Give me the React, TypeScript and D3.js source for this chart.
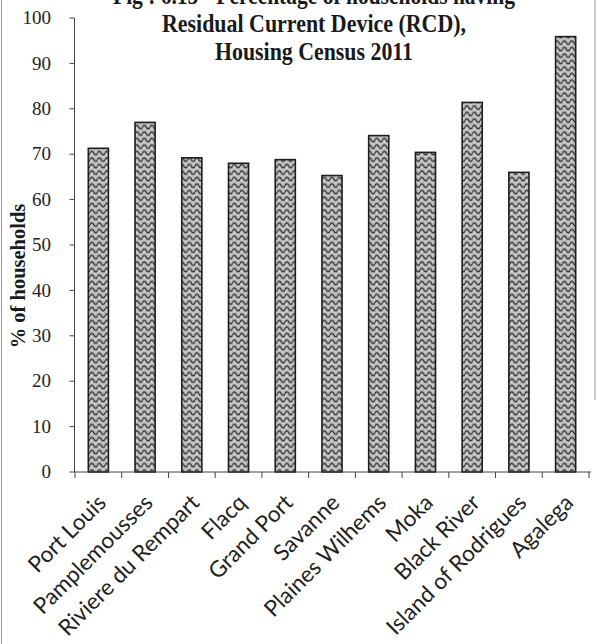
import React from "react";
import * as d3 from "d3";

// Households with a Residual Current Device, by district
const categories = [
  "Port Louis",
  "Pamplemousses",
  "Riviere du Rempart",
  "Flacq",
  "Grand Port",
  "Savanne",
  "Plaines Wilhems",
  "Moka",
  "Black River",
  "Island of Rodrigues",
  "Agalega",
];
const values = [71.3, 77.0, 69.2, 68.0, 68.8, 65.3, 74.1, 70.4, 81.4, 66.0, 95.9];
const yTicks = [0, 10, 20, 30, 40, 50, 60, 70, 80, 90, 100];
const titleLines = [
  "Fig : 6.15 - Percentage of households having",
  "Residual Current Device (RCD),",
  "Housing Census 2011",
];
const yAxisLabel = "% of households";

const W = 597;
const H = 644;
const axisX = 74.5;
const baseY = 472;
const topY = 18;
const rightX = 589;

const serif = "'Liberation Serif', 'Times New Roman', serif";
const sans = "Lato, 'Open Sans', 'Liberation Sans', sans-serif";

// condensed bold title: each line is squeezed to its own width
const titleWidths = [402, 304, 198];

export default function App() {
  const x = d3.scaleBand<string>().domain(categories).range([75, rightX]).padding(0);
  const y = d3.scaleLinear().domain([0, 100]).range([baseY, topY]);
  const step = x.step();
  const bw = step * 0.43;

  return (
    <svg
      width={W}
      height={H}
      viewBox={`0 0 ${W} ${H}`}
      style={{ position: "absolute", left: 0, top: 0, background: "#fff" }}
    >
      <defs>
        <pattern id="wave" width={7.5} height={6.5} patternUnits="userSpaceOnUse">
          <rect width={7.5} height={6.5} fill="#bcbcbc" />
          <circle cx={1.8} cy={5.4} r={0.9} fill="#dadada" />
          <circle cx={5.6} cy={0.9} r={0.8} fill="#d6d6d6" />
          <path
            d="M0,3.6 C1.3,1.1 2.45,1.1 3.75,3.6 S6.2,6.1 7.5,3.6"
            fill="none"
            stroke="#2a2a2a"
            strokeWidth={1.25}
          />
        </pattern>
      </defs>

      {/* page edge lines */}
      <line x1={1.5} x2={1.5} y1={0} y2={H} stroke="#9a9a9a" strokeWidth={1} />
      <line x1={595} x2={595} y1={0} y2={400} stroke="#9a9a9a" strokeWidth={1} />

      {/* title */}
      {titleLines.map((t, i) => (
        <text
          key={t}
          x={314}
          y={4 + i * 28}
          textAnchor="middle"
          fontFamily={serif}
          fontWeight="bold"
          fontSize={25}
          textLength={titleWidths[i]}
          lengthAdjust="spacingAndGlyphs"
          fill="#1a1a1a"
        >
          {t}
        </text>
      ))}

      {/* bars */}
      {categories.map((c, i) => (
        <rect
          key={c}
          x={(x(c) as number) + (step - bw) / 2}
          y={y(values[i])}
          width={bw}
          height={baseY - y(values[i])}
          fill="url(#wave)"
          stroke="#1e1e1e"
          strokeWidth={1.6}
        />
      ))}

      {/* y axis */}
      <line x1={axisX} x2={axisX} y1={topY} y2={baseY} stroke="#444" strokeWidth={1} />
      {yTicks.map((t) => (
        <g key={t}>
          <line x1={axisX - 5} x2={axisX} y1={y(t)} y2={y(t)} stroke="#444" strokeWidth={1} />
          <text
            x={51}
            y={y(t)}
            dy="0.33em"
            textAnchor="end"
            fontFamily={serif}
            fontSize={19}
            fill="#222"
          >
            {t}
          </text>
        </g>
      ))}

      {/* x axis */}
      <line x1={axisX} x2={rightX + 2} y1={baseY} y2={baseY} stroke="#444" strokeWidth={1} />
      <line x1={75} x2={75} y1={baseY} y2={baseY + 6} stroke="#444" strokeWidth={1} />
      {categories.map((c) => (
        <line
          key={c}
          x1={(x(c) as number) + step}
          x2={(x(c) as number) + step}
          y1={baseY}
          y2={baseY + 6}
          stroke="#444"
          strokeWidth={1}
        />
      ))}
      {categories.map((c) => {
        const cx = (x(c) as number) + step / 2;
        return (
          <text
            key={c}
            transform={`translate(${cx + 9},${baseY + 32}) rotate(-45)`}
            textAnchor="end"
            fontFamily={sans}
            fontSize={22.5}
            fill="#222"
          >
            {c}
          </text>
        );
      })}

      {/* y axis title */}
      <text
        transform={`translate(25,276) rotate(-90)`}
        textAnchor="middle"
        fontFamily={serif}
        fontWeight="bold"
        fontSize={20.5}
        fill="#1a1a1a"
      >
        {yAxisLabel}
      </text>
    </svg>
  );
}
